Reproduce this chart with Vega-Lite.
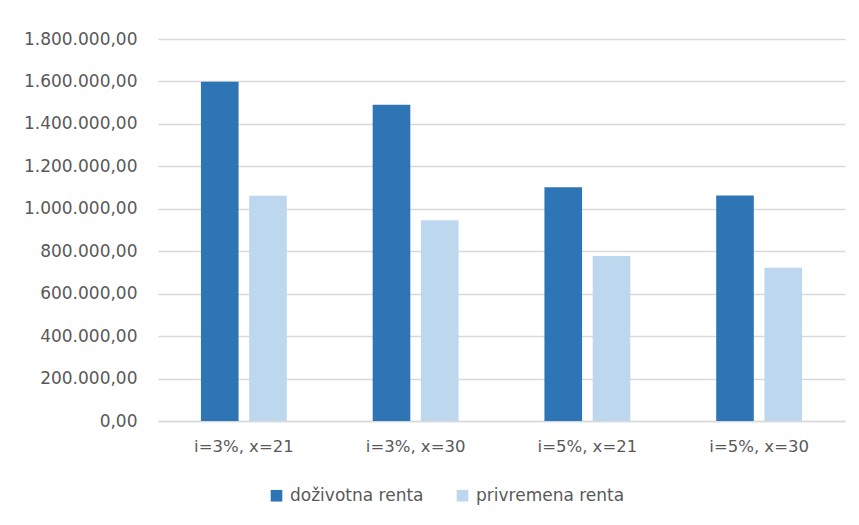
{
  "$schema": "https://vega.github.io/schema/vega-lite/v6.json",
  "autosize": "none",
  "width": 687,
  "height": 382,
  "padding": {"left": 158, "top": 39, "right": 14, "bottom": 104},
  "background": "white",
  "config": {
    "view": {"stroke": null},
    "font": "DejaVu Sans"
  },
  "data": {
    "values": [
      {"cat": "i=3%, x=21", "series": "doživotna renta", "value": 1598000},
      {"cat": "i=3%, x=21", "series": "privremena renta", "value": 1061000},
      {"cat": "i=3%, x=30", "series": "doživotna renta", "value": 1490000},
      {"cat": "i=3%, x=30", "series": "privremena renta", "value": 946000},
      {"cat": "i=5%, x=21", "series": "doživotna renta", "value": 1102000},
      {"cat": "i=5%, x=21", "series": "privremena renta", "value": 777000},
      {"cat": "i=5%, x=30", "series": "doživotna renta", "value": 1062000},
      {"cat": "i=5%, x=30", "series": "privremena renta", "value": 722000}
    ]
  },
  "mark": {"type": "bar"},
  "encoding": {
    "x": {
      "field": "cat",
      "type": "nominal",
      "sort": null,
      "title": null,
      "scale": {"paddingInner": 0.5, "paddingOuter": 0.25},
      "axis": {
        "labelAngle": 0,
        "labelFont": "DejaVu Sans",
        "labelFontSize": 16.5,
        "labelColor": "#595959",
        "labelPadding": 17,
        "ticks": false,
        "domainColor": "#D9D9D9",
        "domainWidth": 1.5
      }
    },
    "xOffset": {
      "field": "series",
      "type": "nominal",
      "sort": null,
      "scale": {"paddingInner": 0.22, "paddingOuter": 0}
    },
    "y": {
      "field": "value",
      "type": "quantitative",
      "title": null,
      "scale": {"domain": [0, 1800000], "nice": false},
      "axis": {
        "values": [0, 200000, 400000, 600000, 800000, 1000000, 1200000, 1400000, 1600000, 1800000],
        "labelExpr": "replace(replace(replace(format(datum.value, ',.2f'), regexp(',', 'g'), '_'), regexp('[.]', 'g'), ','), regexp('_', 'g'), '.')",
        "labelFont": "DejaVu Sans",
        "labelFontSize": 17,
        "labelColor": "#595959",
        "labelPadding": 21,
        "ticks": false,
        "domain": false,
        "gridColor": "#D9D9D9",
        "gridWidth": 1.5
      }
    },
    "color": {
      "field": "series",
      "type": "nominal",
      "sort": null,
      "scale": {
        "domain": ["doživotna renta", "privremena renta"],
        "range": ["#2E75B6", "#BDD7EE"]
      },
      "legend": {
        "title": null,
        "orient": "none",
        "legendX": 110,
        "legendY": 448,
        "direction": "horizontal",
        "symbolType": "square",
        "symbolSize": 135,
        "symbolStrokeWidth": 0,
        "labelFont": "DejaVu Sans",
        "labelFontSize": 17,
        "labelColor": "#595959",
        "columnPadding": 30,
        "labelOffset": 5
      }
    }
  }
}
